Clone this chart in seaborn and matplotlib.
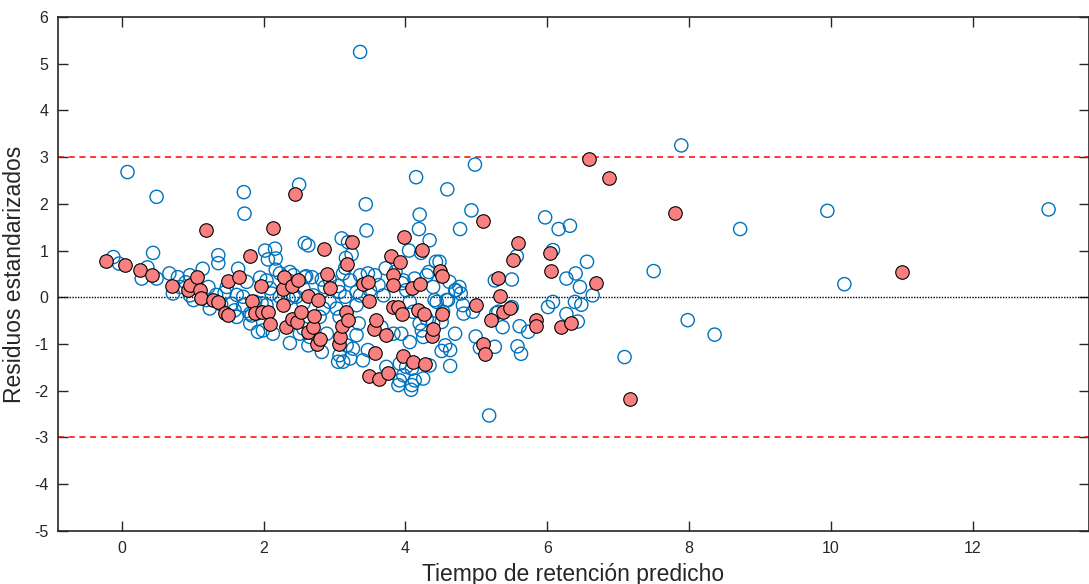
import matplotlib
matplotlib.use("Agg")
import matplotlib.pyplot as plt
import seaborn as sns
import pandas as pd

# ajuste (circulos abiertos azules)
train_x = [-0.12, -0.04, 0.08, 0.28, 0.36, 0.44, 0.49, 0.49, 0.67, 0.72, 0.79, 0.82, 0.96, 0.96, 0.90,
           1.01, 1.06, 1.14, 1.19, 1.22, 1.24, 1.33, 1.36, 1.36, 1.40, 1.45, 1.48, 1.55, 1.59, 1.62, 1.62,
           1.64, 1.71, 1.71, 1.72, 1.73, 1.76, 1.81, 1.81, 1.83, 1.88, 1.90, 1.92, 1.95, 1.97, 1.99,
           2.02, 2.04, 2.04, 2.06, 2.09, 2.11, 2.13, 2.16, 2.17, 2.17, 2.23, 2.23, 2.35, 2.35, 2.37, 2.37,
           2.42, 2.42, 2.46, 2.46, 2.50, 2.51, 2.56, 2.56, 2.56, 2.58, 2.58, 2.60, 2.63, 2.63, 2.65, 2.68,
           2.70, 2.79, 2.82, 2.82, 2.84, 2.86, 2.89, 2.93, 2.93,
           3.03, 3.05, 3.05, 3.07, 3.07, 3.07, 3.10, 3.12, 3.12, 3.15, 3.15, 3.16, 3.17, 3.19, 3.22, 3.22,
           3.24, 3.26, 3.31, 3.31, 3.31, 3.34, 3.36, 3.36, 3.36, 3.40, 3.44, 3.45, 3.47, 3.47, 3.50, 3.57,
           3.62, 3.66, 3.69, 3.72, 3.73, 3.83, 3.86, 3.90, 3.92, 3.92, 3.94, 3.95, 3.97, 3.97,
           4.01, 4.01, 4.05, 4.06, 4.06, 4.08, 4.09, 4.09, 4.11, 4.13, 4.13, 4.15, 4.19, 4.20, 4.20, 4.22,
           4.23, 4.25, 4.25, 4.30, 4.30, 4.33, 4.34, 4.34, 4.39, 4.39, 4.41, 4.43, 4.44, 4.48, 4.51, 4.51,
           4.53, 4.56, 4.58, 4.59, 4.60, 4.62, 4.63, 4.63, 4.70, 4.70, 4.71, 4.76, 4.77, 4.78, 4.81, 4.82,
           4.93, 4.95, 4.98, 4.99,
           5.05, 5.18, 5.26, 5.26, 5.28, 5.31, 5.37, 5.50, 5.50, 5.57, 5.58, 5.61, 5.63, 5.73, 5.97, 6.01,
           6.08, 6.08, 6.16, 6.27, 6.27, 6.32, 6.39, 6.40, 6.43, 6.46, 6.48, 6.56, 6.64, 7.09, 7.50, 7.89,
           7.98, 8.36, 8.72, 9.95, 10.19, 13.07]
train_y = [0.86, 0.72, 2.68, 0.40, 0.64, 0.95, 0.40, 2.15, 0.51, 0.08, 0.43, 0.22, 0.47, 0.04, 0.32,
           -0.06, 0.20, 0.61, -0.06, 0.22, -0.24, 0.05, 0.90, 0.73, -0.15, 0.10, 0.22, -0.14, -0.28, -0.42, 0.05,
           0.61, 0.01, -0.17, 2.25, 1.79, 0.33, -0.56, -0.35, -0.39, -0.10, -0.35, -0.74, 0.42, -0.13, -0.71,
           1.00, 0.36, -0.17, 0.81, 0.19, 0.08, -0.78, 1.04, 0.59, 0.83, 0.51, 0.01, 0.36, -0.03, 0.54, -0.98,
           0.47, 0.04, 0.01, -0.49, 2.41, -0.78, 0.19, -0.13, -0.67, 0.43, 1.16, 0.45, 1.11, -1.03, -0.85, 0.43,
           0.04, -0.42, 0.38, -1.17, -0.24, 0.22, -0.78, -0.10, 0.38,
           -0.24, 0.24, -1.38, 0.11, -0.42, -1.24, 1.26, 0.51, -1.38, 0.63, 0.01, 0.84, -1.03, 1.18, 0.36, -1.31,
           0.92, -1.10, 0.11, -0.17, -0.81, -0.56, 5.25, 0.47, 0.04, -1.35, 1.99, 1.43, 0.51, -1.13, 0.15, 0.47,
           0.26, -0.64, 0.04, 0.62, -1.49, -0.78, 0.55, -1.88, -1.42, -1.78, -0.78, 0.30, 0.36, -1.67,
           0.15, -1.49, 1.00, -0.10, -0.96, -1.98, -1.53, -1.88, -0.31, 0.40, -1.78, 2.57, 1.46, 1.77, -0.56, 0.95,
           -0.71, -0.85, -1.74, 0.47, -0.46, 0.54, 1.22, -1.46, 0.22, -0.56, -0.06, 0.76, -0.10, 0.76, -0.53, -1.15,
           -0.31, -1.03, -0.06, 2.31, -0.06, 0.33, -1.13, -1.47, 0.15, -0.78, 0.15, 0.22, 1.46, 0.08, -0.17, -0.35,
           1.86, -0.31, 2.84, -0.84,
           -1.08, -2.53, 0.36, -1.06, -0.34, -0.31, -0.64, 0.38, -0.21, 0.88, -1.05, -0.62, -1.21, -0.74, 1.71, -0.21,
           -0.10, 1.01, 1.46, 0.40, -0.36, 1.53, -0.10, 0.51, -0.52, 0.22, -0.16, 0.76, 0.04, -1.28, 0.56, 3.25,
           -0.49, -0.80, 1.46, 1.85, 0.28, 1.88]

# prueba (circulos rellenos rojos)
test_x = [-0.23, 0.05, 0.25, 0.42, 0.71, 0.93, 0.96, 1.06, 1.10, 1.12, 1.19, 1.28, 1.35, 1.45, 1.49, 1.50,
          1.65, 1.81, 1.84, 1.88, 1.96, 1.97, 2.06, 2.09, 2.13, 2.27, 2.27, 2.28, 2.32, 2.40, 2.40, 2.44,
          2.47, 2.49, 2.52, 2.63, 2.63, 2.70, 2.71, 2.75, 2.77, 2.79, 2.85, 2.90, 2.93, 3.06, 3.07, 3.11,
          3.16, 3.17, 3.19, 3.25, 3.40, 3.47, 3.49, 3.49, 3.56, 3.57, 3.58, 3.63, 3.72, 3.75, 3.80, 3.82,
          3.82, 3.83, 3.90, 3.92, 3.95, 3.97, 3.98, 4.09, 4.11, 4.18, 4.20, 4.23, 4.26, 4.27, 4.38, 4.39,
          4.49, 4.51, 4.52, 4.99, 5.09, 5.10, 5.12, 5.20, 5.31, 5.34, 5.38, 5.48, 5.51, 5.59, 5.84, 5.84,
          6.04, 6.05, 6.20, 6.34, 6.59, 6.68, 6.87, 7.17, 7.80, 11.0]
test_y = [0.77, 0.70, 0.58, 0.47, 0.24, 0.15, 0.26, 0.43, 0.15, -0.01, 1.43, -0.06, -0.11, -0.34, -0.39, 0.35,
          0.43, 0.88, -0.08, -0.34, 0.24, -0.31, -0.31, -0.58, 1.48, 0.17, -0.17, 0.43, -0.64, 0.25, -0.46, 2.21,
          -0.53, 0.36, -0.32, 0.02, -0.74, -0.64, -0.41, -0.99, -0.06, -0.90, 1.04, 0.49, 0.19, -1.01, -0.86, -0.61,
          -0.31, 0.72, -0.49, 1.18, 0.29, 0.33, -0.09, -1.69, -0.67, -1.19, -0.49, -1.74, -0.80, -1.63, 0.88, 0.47,
          0.26, -0.21, -0.21, 0.76, -0.35, -1.26, 1.29, 0.19, -1.38, -0.28, 0.29, 1.02, -0.36, -1.43, -0.83, -0.69,
          0.56, 0.45, -0.35, -0.17, -1.01, 1.63, -1.21, -0.48, 0.42, 0.03, -0.31, -0.24, 0.79, 1.16, -0.49, -0.62,
          0.94, 0.56, -0.64, -0.56, 2.95, 0.31, 2.56, -2.17, 1.81, 0.55]

x_ticks = [0, 2, 4, 6, 8, 10, 12]
y_ticks = [-5, -4, -3, -2, -1, 0, 1, 2, 3, 4, 5, 6]

sns.set_style("ticks")
plt.rcParams['font.family'] = ['Liberation Sans', 'DejaVu Sans']
plt.rcParams['axes.unicode_minus'] = False

train = pd.DataFrame({'pred': train_x, 'res': train_y})
test = pd.DataFrame({'pred': test_x, 'res': test_y})

fig = plt.figure(figsize=(10.89, 5.84), dpi=100)
ax = fig.add_axes([0.0533, 0.091, 0.9467, 0.880])

ax.axhline(3, color='#FF0000', ls=(0, (4, 3)), lw=1.1, zorder=1)
ax.axhline(-3, color='#FF0000', ls=(0, (4, 3)), lw=1.1, zorder=1)
ax.axhline(0, color='black', ls=(0, (1, 1)), lw=1.0, zorder=1)

sns.scatterplot(data=train, x='pred', y='res', ax=ax, s=90, facecolors='none',
                edgecolor='#0072BD', linewidth=1.0, zorder=2)
sns.scatterplot(data=test, x='pred', y='res', ax=ax, s=95, color='#F98080',
                edgecolor='black', linewidth=0.8, zorder=3)

ax.set_xlim(-0.9, 13.64)
ax.set_ylim(-5, 6)
ax.set_xticks(x_ticks)
ax.set_yticks(y_ticks)
ax.tick_params(direction='in', length=7, width=1, color='#262626', labelsize=11.5,
               top=True, right=True, pad=7)
for sp in ax.spines.values():
    sp.set_linewidth(1.2)
    sp.set_color('#262626')

ax.set_xlabel('Tiempo de retención predicho', fontsize=16.5, color='#262626', labelpad=5)
ax.set_ylabel('Residuos estandarizados', fontsize=16.5, color='#262626', labelpad=6)

fig.savefig('out.png', dpi=100)
